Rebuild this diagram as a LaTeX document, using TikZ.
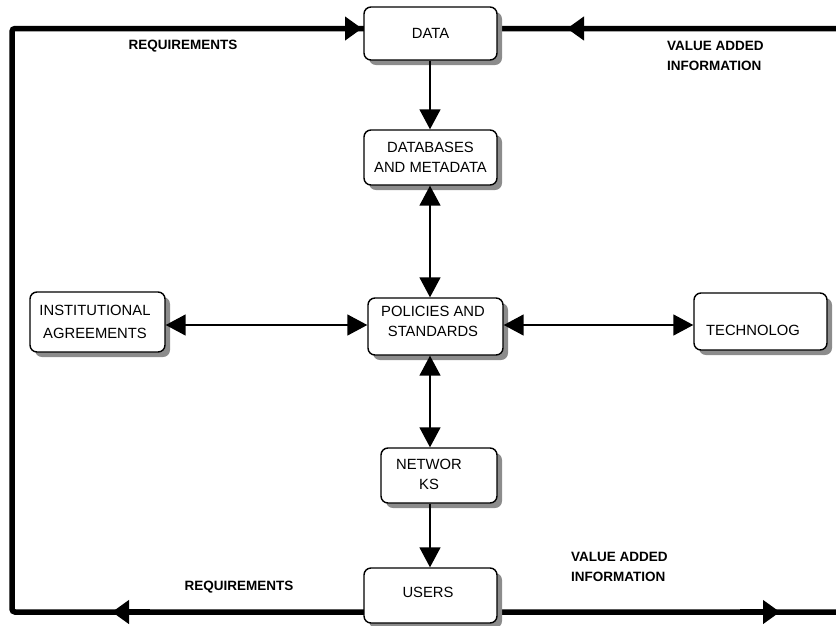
\documentclass[tikz,border=0pt]{standalone}
\usepackage{fontspec}
\setmainfont{Liberation Sans}
\usetikzlibrary{arrows.meta,shadows}
\begin{document}
\begin{tikzpicture}[x=1pt,y=-1pt,
  box/.style={draw=black, line width=1.4pt, rounded corners=7pt, fill=white, align=center, inner sep=0pt,
    drop shadow={shadow xshift=5pt, shadow yshift=-5pt, fill=black!45, opacity=1},
    font=\fontsize{14.8}{19.5}\selectfont},
  boxtext/.style={align=center, inner sep=0pt, font=\fontsize{14.8}{20}\selectfont},
  lbl/.style={align=left, inner sep=0pt, font=\fontsize{13.5}{20}\selectfont\bfseries},
  frame/.style={line width=5.5pt},
  bighead/.style={-{Triangle[length=17pt,width=23pt]}},
  link/.style={line width=1.5pt},
  onehead/.style={-{Triangle[length=20pt,width=21pt]}},
  twohead/.style={{Triangle[length=20pt,width=21pt]}-{Triangle[length=20pt,width=21pt]}}
]
\useasboundingbox (0,0) rectangle (836,625);

% outer loop
\coordinate (fr1) at (840,28.5);
\coordinate (fr2) at (12,28.5);
\coordinate (fr3) at (12,612);
\coordinate (fr4) at (840,612);
\draw[frame, rounded corners=3pt] (fr1) -- (fr2) -- (fr3) -- (fr4);

\coordinate (ta1) at (330,28.5);  \coordinate (ta2) at (362,28.5);
\coordinate (tb1) at (610,28.5);  \coordinate (tb2) at (567,28.5);
\coordinate (bl1) at (150,612);   \coordinate (bl2) at (112,612);
\coordinate (br1) at (740,612);   \coordinate (br2) at (780,612);
\draw[frame, bighead] (ta1) -- (ta2);
\draw[frame, bighead] (tb1) -- (tb2);
\draw[frame, bighead] (bl1) -- (bl2);
\draw[frame, bighead] (br1) -- (br2);

% boxes
\node[box, minimum width=133pt, minimum height=53pt] (data) at (430.5,33.5) {DATA};
\node[box, minimum width=133pt, minimum height=55pt] (dbm) at (430.5,157.5) {DATABASES\\AND METADATA};
\node[box, minimum width=135pt, minimum height=57pt,
  label={[boxtext, xshift=-2.5pt, yshift=5.5pt]center:POLICIES AND\\STANDARDS}] (pol) at (435.5,326.5) {};
\node[box, minimum width=135pt, minimum height=60pt,
  label={[boxtext, font=\fontsize{14.8}{23}\selectfont, xshift=-2.5pt, yshift=0.5pt]center:INSTITUTIONAL\\AGREEMENTS}] (inst) at (97.5,322) {};
\node[box, minimum width=133pt, minimum height=57pt,
  label={[boxtext, xshift=-7.5pt, yshift=-8.5pt]center:TECHNOLOG}] (tech) at (760.5,321.5) {};
\node[box, minimum width=116pt, minimum height=55pt,
  label={[boxtext, xshift=-10pt, yshift=1.5pt]center:NETWOR\\KS}] (net) at (439,475.5) {};
\node[box, minimum width=133pt, minimum height=55pt,
  label={[boxtext, xshift=-2.5pt, yshift=3.5pt]center:USERS}] (users) at (430.5,595.5) {};

% connectors
\coordinate (ax) at (430,0);
\coordinate (hy) at (0,325);
\draw[link, onehead] (data.south -| ax) -- (dbm.north -| ax);
\draw[link, twohead] (dbm.south -| ax) -- (pol.north -| ax);
\draw[link, twohead] (pol.south -| ax) -- (net.north -| ax);
\draw[link, onehead] (net.south -| ax) -- (users.north -| ax);
\draw[link, twohead] (inst.east |- hy) -- (pol.west |- hy);
\draw[link, twohead] (pol.east |- hy) -- (tech.west |- hy);

% labels
\node[lbl, anchor=center] (req1) at (183,46) {REQUIREMENTS};
\node[lbl, anchor=west] (vai1) at (667,56) {VALUE ADDED\\INFORMATION};
\node[lbl, anchor=center] (req2) at (239,587) {REQUIREMENTS};
\node[lbl, anchor=west] (vai2) at (571,567) {VALUE ADDED\\INFORMATION};
\end{tikzpicture}
\end{document}
